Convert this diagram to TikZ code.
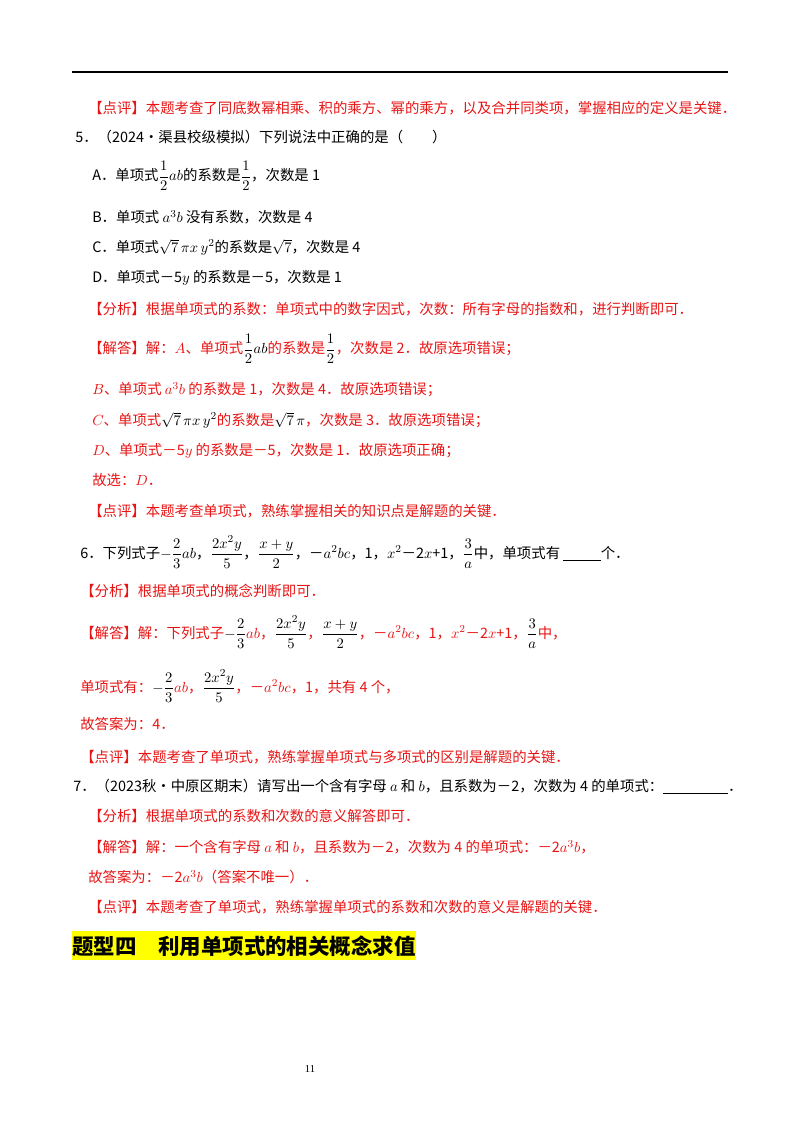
\documentclass[tikz,border=0pt]{standalone}
\usepackage{amsmath}
\usepackage{fontspec}
\setmainfont{Liberation Serif}
\newfontfamily\cjk{Noto Sans CJK SC}
\definecolor{rd}{RGB}{232,20,20}
\definecolor{hl}{RGB}{255,255,0}
\tikzset{t/.style={anchor=west,inner sep=0pt,font=\cjk\fontsize{10.8}{13}\selectfont},
 r/.style={t,text=rd}}
\begin{document}
\begin{tikzpicture}[x=0.75pt,y=-0.75pt]
\useasboundingbox (0,0) rectangle (800,1132);
\draw[line width=1pt] (72,72) -- (728,72);
\node[r] (l1) at (88,108) {【点评】本题考查了同底数幂相乘、积的乘方、幂的乘方，以及合并同类项，掌握相应的定义是关键．};
\node[t] (q5) at (75,137) {5．（2024•渠县校级模拟）下列说法中正确的是（　　）};
\node[t] (a5) at (92,176) {A．单项式$\dfrac12 ab$的系数是$\dfrac12$，次数是 1};
\node[t] (b5) at (92,217) {B．单项式 $a^3b$ 没有系数，次数是 4};
\node[t] (c5) at (92,247) {C．单项式$\sqrt7\,\pi x\,y^2$的系数是$\sqrt7$，次数是 4};
\node[t] (d5) at (92,278) {D．单项式－5$y$ 的系数是－5，次数是 1};
\node[r] (f5) at (88,309) {【分析】根据单项式的系数：单项式中的数字因式，次数：所有字母的指数和，进行判断即可．};
\node[r] (j5) at (88,349) {【解答】解：$A$、单项式\textcolor{black}{$\dfrac12 ab$}的系数是\textcolor{black}{$\dfrac12$}，次数是 2．故原选项错误；};
\node[r] (j5b) at (92,390) {$B$、单项式 $a^3b$ 的系数是 1，次数是 4．故原选项错误；};
\node[r] (j5c) at (92,420) {$C$、单项式\textcolor{black}{$\sqrt7\,\pi x\,y^2$}的系数是\textcolor{black}{$\sqrt7\,\pi$}，次数是 3．故原选项错误；};
\node[r] (j5d) at (92,451) {$D$、单项式－5$y$ 的系数是－5，次数是 1．故原选项正确；};
\node[r] (j5e) at (92,480) {故选：$D$．};
\node[r] (p5) at (88,511) {【点评】本题考查单项式，熟练掌握相关的知识点是解题的关键．};
\node[t] (q6) at (80,552) {6．下列式子$-\dfrac23ab$，$\dfrac{2x^2y}{5}$，$\dfrac{x+y}{2}$，－$a^2bc$，1，$x^2$－2$x$+1，$\dfrac3a$中，单项式有 \underline{\hspace{2.6em}}个．};
\node[r] (f6) at (80,591) {【分析】根据单项式的概念判断即可．};
\node[r] (j6) at (80,632) {【解答】解：下列式子\textcolor{black}{$-\dfrac23$}$ab$，\textcolor{black}{$\dfrac{2x^2y}{5}$}，\textcolor{black}{$\dfrac{x+y}{2}$}，－$a^2bc$，1，$x^2$－2$x$+1，\textcolor{black}{$\dfrac3a$}中，};
\node[r] (j6b) at (80,686) {单项式有：\textcolor{black}{$-\dfrac23$}$ab$，\textcolor{black}{$\dfrac{2x^2y}{5}$}，－$a^2bc$，1，共有 4 个，};
\node[r] (j6c) at (80,724) {故答案为：4．};
\node[r] (p6) at (80,757) {【点评】本题考查了单项式，熟练掌握单项式与多项式的区别是解题的关键．};
\node[t] (q7) at (73,787) {7．（2023秋•中原区期末）请写出一个含有字母 $a$ 和 $b$，且系数为－2，次数为 4 的单项式：\underline{\hspace{4.5em}}．};
\node[r] (f7) at (88,816) {【分析】根据单项式的系数和次数的意义解答即可．};
\node[r] (j7) at (88,847) {【解答】解：一个含有字母 $a$ 和 $b$，且系数为－2，次数为 4 的单项式：－2$a^3b$，};
\node[r] (j7b) at (88,877) {故答案为：－2$a^3b$（答案不唯一）．};
\node[r] (p7) at (88,907) {【点评】本题考查了单项式，熟练掌握单项式的系数和次数的意义是解题的关键．};
\fill[hl] (72,931) rectangle (416,960);
\node[t,font=\cjk\bfseries\fontsize{16.1}{18}\selectfont] (h) at (72,946) {题型四\hspace{1em}利用单项式的相关概念求值};
\node[t,font=\fontsize{8}{9}\selectfont,anchor=center] (pg) at (310,1069) {11};
\end{tikzpicture}
\end{document}
